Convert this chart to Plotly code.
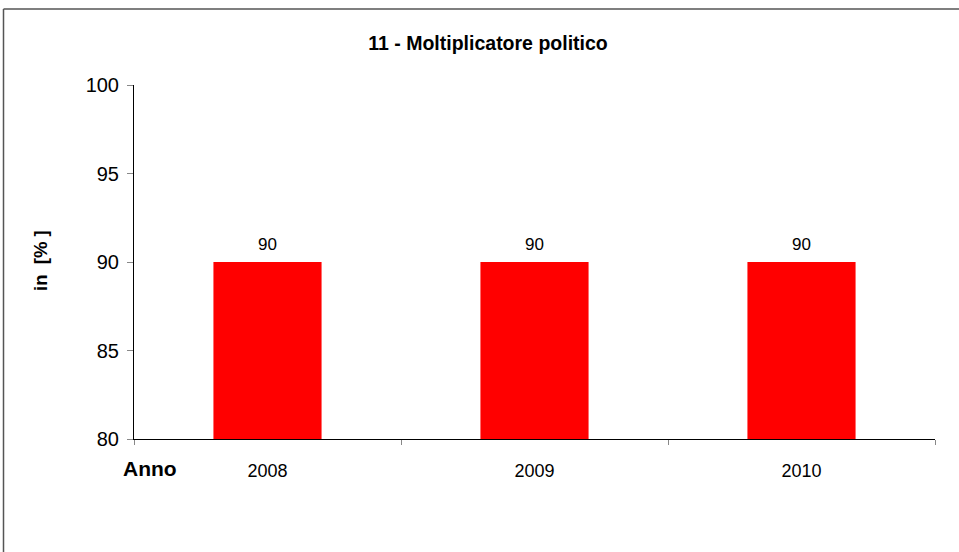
import plotly.graph_objects as go

# Data
anni = ['2008', '2009', '2010']
valori = [90, 90, 90]
y_ticks = [80, 85, 90, 95, 100]

font_name = 'Liberation Sans, Arial, sans-serif'

fig = go.Figure()
fig.add_trace(go.Bar(
    x=anni, y=valori,
    marker=dict(color='#ff0000', line=dict(width=0)),
    width=0.405,
    showlegend=False,
))

# value labels above bars (category index for x)
for i, v in enumerate(valori):
    fig.add_annotation(x=i, y=v, text=f'{v:g}', yshift=18, showarrow=False,
                       xanchor='center', yanchor='middle',
                       font=dict(family=font_name, size=17, color='black'))

# Plot area in px: x 134..935, y 85..439
L, R, T, B = 134, 935, 85, 439
W, H = R - L, B - T

def px(x):
    return (x - L) / W

def py(y):
    return (B - y) / H

fig.update_layout(
    width=959, height=552,
    margin=dict(l=L, r=959 - R, t=T, b=552 - B),
    paper_bgcolor='white', plot_bgcolor='white',
    font=dict(family=font_name, color='black'),
    title=dict(text='<b>11 - Moltiplicatore politico</b>',
               x=488 / 959, xanchor='center', y=1 - 43 / 552, yanchor='middle',
               font=dict(family=font_name, size=19.5, color='black')),
    xaxis=dict(type='category', range=[-0.5, len(anni) - 0.5],
               tickson='boundaries', ticks='outside', ticklen=5,
               tickcolor='#888888', showline=True, linecolor='black', linewidth=1,
               showgrid=False, tickfont=dict(size=18, color='black'),
               ticklabelstandoff=15),
    yaxis=dict(range=[80, 100], tickvals=y_ticks, ticks='outside', ticklen=6,
               tickcolor='#888888', showline=True, linecolor='black', linewidth=1,
               showgrid=False, zeroline=False, tickfont=dict(size=20, color='black'),
               ticklabelstandoff=4),
)

# outer chart border (left and top edges visible)
fig.add_shape(type='line', xref='paper', yref='paper',
              x0=px(3.5), y0=py(560), x1=px(3.5), y1=py(9),
              line=dict(color='#555555', width=1.5))
fig.add_shape(type='line', xref='paper', yref='paper',
              x0=px(3.5), y0=py(9), x1=px(970), y1=py(9),
              line=dict(color='#555555', width=1.5))

fig.add_annotation(text='<b>in  [% ]</b>', xref='paper', yref='paper',
                   x=px(40), y=py(261), xanchor='center', yanchor='middle',
                   textangle=-90, showarrow=False,
                   font=dict(family=font_name, size=18.5, color='black'))
fig.add_annotation(text='<b>Anno</b>', xref='paper', yref='paper',
                   x=px(150), y=py(468), xanchor='center', yanchor='middle',
                   showarrow=False,
                   font=dict(family=font_name, size=21, color='black'))

# drop the default 8px page margin so the figure sits in the corner
fig.write_html('out.html', config={'displayModeBar': False},
               post_script="document.body.style.margin='0';")
